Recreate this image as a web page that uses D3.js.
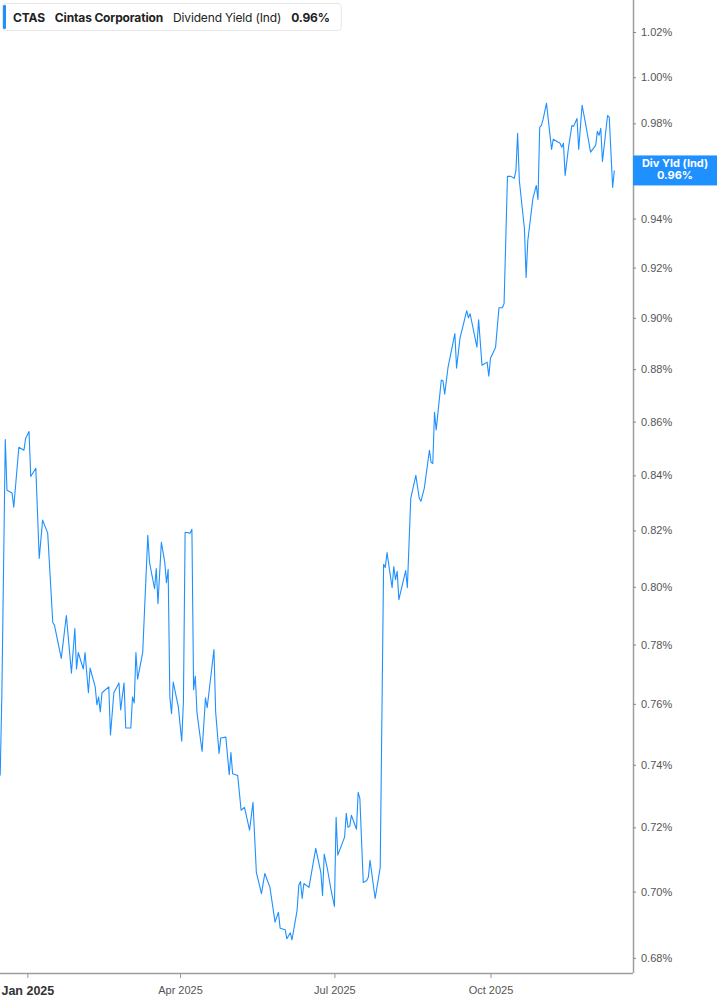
<!DOCTYPE html>
<html lang="en">
<head>
  <meta charset="UTF-8">
  <title>CTAS Dividend Yield</title>
  <script src="https://d3js.org/d3.v7.min.js"></script>
  <style>
    html, body { margin: 0; padding: 0; background: #fff; }
    body { font-family: Inter, "Noto Sans", sans-serif; }
  </style>
</head>
<body>
  <script>
    // values
    const dates = [
      "2024-12-16","2024-12-17","2024-12-19","2024-12-20","2024-12-23","2024-12-24","2024-12-27","2024-12-30","2024-12-31",
      "2025-01-02","2025-01-03","2025-01-06","2025-01-08","2025-01-10","2025-01-13","2025-01-16","2025-01-17","2025-01-21",
      "2025-01-24","2025-01-27","2025-01-29","2025-01-30","2025-01-31","2025-02-03","2025-02-04","2025-02-06","2025-02-07",
      "2025-02-10","2025-02-11","2025-02-12","2025-02-13","2025-02-14","2025-02-18","2025-02-19","2025-02-21","2025-02-24",
      "2025-02-25","2025-02-27","2025-02-28","2025-03-03","2025-03-04","2025-03-05","2025-03-06","2025-03-07","2025-03-10",
      "2025-03-13","2025-03-14","2025-03-17","2025-03-18","2025-03-19","2025-03-21","2025-03-23","2025-03-24","2025-03-25",
      "2025-03-26","2025-03-27","2025-03-28","2025-03-31","2025-04-02","2025-04-03","2025-04-04","2025-04-07","2025-04-08",
      "2025-04-09","2025-04-10","2025-04-11","2025-04-14","2025-04-16","2025-04-17","2025-04-21","2025-04-22","2025-04-24",
      "2025-04-25","2025-04-28","2025-04-30","2025-05-01","2025-05-02","2025-05-05","2025-05-07","2025-05-09","2025-05-12",
      "2025-05-14","2025-05-16","2025-05-19","2025-05-21","2025-05-24","2025-05-27","2025-05-29","2025-05-30","2025-06-02",
      "2025-06-03","2025-06-05","2025-06-06","2025-06-09","2025-06-10","2025-06-11","2025-06-12","2025-06-13","2025-06-16",
      "2025-06-20","2025-06-23","2025-06-24","2025-06-25","2025-06-27","2025-06-29","2025-07-01","2025-07-02","2025-07-03",
      "2025-07-07","2025-07-08","2025-07-09","2025-07-10","2025-07-11","2025-07-14","2025-07-15","2025-07-16","2025-07-18",
      "2025-07-20","2025-07-21","2025-07-22","2025-07-25","2025-07-28","2025-07-30","2025-07-31","2025-08-01","2025-08-04",
      "2025-08-05","2025-08-06","2025-08-07","2025-08-08","2025-08-12","2025-08-13","2025-08-15","2025-08-18","2025-08-20",
      "2025-08-21","2025-08-23","2025-08-26","2025-08-27","2025-08-28","2025-08-29","2025-08-30","2025-09-02","2025-09-03",
      "2025-09-04","2025-09-06","2025-09-10","2025-09-11","2025-09-13","2025-09-17","2025-09-18","2025-09-19","2025-09-23",
      "2025-09-24","2025-09-26","2025-09-29","2025-09-30","2025-10-01","2025-10-04","2025-10-06","2025-10-08","2025-10-09",
      "2025-10-11","2025-10-13","2025-10-15","2025-10-16","2025-10-17","2025-10-18","2025-10-21","2025-10-22","2025-10-23",
      "2025-10-25","2025-10-26","2025-10-28","2025-10-29","2025-10-30","2025-10-31","2025-11-01","2025-11-03","2025-11-06",
      "2025-11-07","2025-11-10","2025-11-11","2025-11-12","2025-11-13","2025-11-14","2025-11-16","2025-11-18","2025-11-19",
      "2025-11-21","2025-11-22","2025-11-24","2025-11-26","2025-11-29","2025-12-02","2025-12-03","2025-12-04","2025-12-05",
      "2025-12-06","2025-12-09","2025-12-10","2025-12-12","2025-12-13"
    ];
    const yieldPct = [
      0.7365,0.7637,0.8533,0.8345,0.8335,0.8284,0.8504,0.8493,0.8537,
      0.8563,0.8396,0.8426,0.8100,0.8237,0.8190,0.7876,0.7866,0.7753,
      0.7900,0.7703,0.7855,0.7717,0.7773,0.7717,0.7773,0.7637,0.7720,
      0.7657,0.7597,0.7623,0.7573,0.7637,0.7657,0.7497,0.7637,0.7670,
      0.7580,0.7670,0.7520,0.7520,0.7623,0.7603,0.7773,0.7683,0.7773,
      0.8182,0.8086,0.7993,0.8064,0.7941,0.8157,0.8086,0.8014,0.8061,
      0.7623,0.7567,0.7673,0.7590,0.7477,0.7607,0.8193,0.8190,0.8204,
      0.7647,0.7693,0.7570,0.7443,0.7620,0.7587,0.7783,0.7573,0.7437,
      0.7487,0.7490,0.7368,0.7440,0.7371,0.7365,0.7254,0.7263,0.7191,
      0.7279,0.7059,0.6994,0.7056,0.7013,0.6907,0.6937,0.6889,0.6884,
      0.6857,0.6875,0.6854,0.6943,0.7019,0.7031,0.6979,0.7025,0.7013,
      0.7134,0.7059,0.6988,0.7116,0.7066,0.7006,0.6955,0.7232,0.7113,
      0.7169,0.7244,0.7200,0.7203,0.7238,0.7194,0.7311,0.7292,0.7028,
      0.7034,0.7044,0.7097,0.6979,0.7075,0.8079,0.8068,0.8121,0.7997,
      0.8071,0.8025,0.8054,0.7955,0.8057,0.7997,0.8316,0.8400,0.8316,
      0.8305,0.8353,0.8493,0.8448,0.8444,0.8635,0.8569,0.8758,0.8754,
      0.8704,0.8808,0.8938,0.8804,0.8919,0.9028,0.9000,0.9016,0.8885,
      0.8992,0.8815,0.8827,0.8773,0.8842,0.8885,0.9040,0.9040,0.9056,
      0.9575,0.9575,0.9567,0.9600,0.9757,0.9558,0.9359,0.9160,0.9310,
      0.9425,0.9483,0.9537,0.9479,0.9783,0.9791,0.9817,0.9887,0.9689,
      0.9732,0.9719,0.9715,0.9698,0.9715,0.9579,0.9698,0.9791,0.9787,
      0.9821,0.9689,0.9878,0.9800,0.9677,0.9706,0.9766,0.9749,0.9779,
      0.9638,0.9834,0.9826,0.9529,0.9600
    ];
    const yTicks = [0.68, 0.70, 0.72, 0.74, 0.76, 0.78, 0.80, 0.82, 0.84, 0.86, 0.88, 0.90, 0.92, 0.94, 0.96, 0.98, 1.00, 1.02];
    const xTicks = ["2025-01-01", "2025-04-01", "2025-07-01", "2025-10-01"];
    const xTickLabels = ["Jan 2025", "Apr 2025", "Jul 2025", "Oct 2025"];
    const legendParts = [
      { text: "CTAS", bold: true },
      { text: "Cintas Corporation", bold: true },
      { text: "Dividend Yield (Ind)", bold: false },
      { text: "0.96%", bold: true }
    ];
    const lastLabel = ["Div Yld (Ind)", "0.96%"];

    const width = 717, height = 1005;
    const plotRight = 633, plotBottom = 973;
    const blue = "#1e90ff";
    const parse = d3.utcParse("%Y-%m-%d");
    const data = dates.map((d, i) => ({ date: parse(d), value: yieldPct[i] }));

    const x = d3.scaleUtc()
        .domain([parse("2024-12-15"), parse("2025-12-24")])
        .range([-1.5, plotRight]);
    const y = d3.scaleLog()
        .domain([0.6755, 1.0344])
        .range([plotBottom, 0]);

    const svg = d3.create("svg")
        .attr("width", width)
        .attr("height", height)
        .attr("viewBox", [0, 0, width, height])
        .attr("style", "display:block; font-family: Inter, 'Noto Sans', sans-serif;");
    // attach early so text widths can be measured
    document.body.appendChild(svg.node());

    // right axis
    const yAxis = svg.append("g")
        .attr("transform", `translate(${plotRight},0)`)
        .call(d3.axisRight(y).tickValues(yTicks).tickSize(3).tickPadding(5)
            .tickFormat(d => d3.format(".2f")(d) + "%"));
    yAxis.select(".domain").attr("stroke", "#9e9e9e").attr("stroke-width", 1.5)
        .attr("d", `M0.5,0V${plotBottom}`);
    yAxis.selectAll(".tick line").attr("stroke", "#888");
    yAxis.selectAll(".tick text").attr("fill", "#555").attr("font-size", 11);

    // bottom axis
    const xAxis = svg.append("g")
        .attr("transform", `translate(0,${plotBottom})`)
        .call(d3.axisBottom(x).tickValues(xTicks.map(parse)).tickSize(5).tickPadding(8)
            .tickFormat((d, i) => xTickLabels[i]));
    xAxis.select(".domain").attr("stroke", "#9e9e9e").attr("stroke-width", 1.5)
        .attr("d", `M0,0.5H${plotRight}`);
    xAxis.selectAll(".tick line").attr("stroke", "#999");
    xAxis.selectAll(".tick text")
        .attr("fill", (d, i) => i === 0 ? "#333" : "#555")
        .attr("font-size", (d, i) => i === 0 ? 12.5 : 11)
        .attr("font-weight", (d, i) => i === 0 ? "bold" : null);

    // series line
    svg.append("path")
        .datum(data)
        .attr("fill", "none")
        .attr("stroke", blue)
        .attr("stroke-width", 1.1)
        .attr("stroke-linejoin", "round")
        .attr("d", d3.line().x(d => x(d.date)).y(d => y(d.value)));

    // last value label on the axis
    const last = data[data.length - 1];
    const tag = svg.append("g").attr("transform", `translate(${plotRight},${y(last.value)})`);
    tag.append("rect")
        .attr("x", 0).attr("y", -15).attr("width", width - plotRight).attr("height", 30)
        .attr("fill", blue);
    tag.selectAll("text")
        .data(lastLabel)
        .join("text")
        .attr("x", (width - plotRight) / 2)
        .attr("y", (d, i) => i === 0 ? -3 : 9)
        .attr("text-anchor", "middle")
        .attr("fill", "#fff")
        .attr("font-size", 11)
        .attr("font-weight", "bold")
        .text(d => d);

    // legend box
    const legend = svg.append("g").attr("transform", "translate(2,3)");
    const legendBg = legend.append("rect")
        .attr("x", 0.5).attr("y", 0.5).attr("height", 27).attr("rx", 3)
        .attr("fill", "#fff").attr("stroke", "#e6e6e6");
    legend.append("rect")
        .attr("x", 1).attr("y", 2).attr("width", 3).attr("height", 24).attr("rx", 1)
        .attr("fill", blue);
    let lx = 11;
    legendParts.forEach(p => {
      const t = legend.append("text")
          .attr("x", lx).attr("y", 18.5)
          .attr("font-size", 12)
          .attr("letter-spacing", -0.15)
          .attr("font-weight", p.bold ? "bold" : "normal")
          .attr("fill", "#222")
          .text(p.text);
      lx += t.node().getComputedTextLength() + 10;
    });
    legendBg.attr("width", lx + 1);
  </script>
</body>
</html>
